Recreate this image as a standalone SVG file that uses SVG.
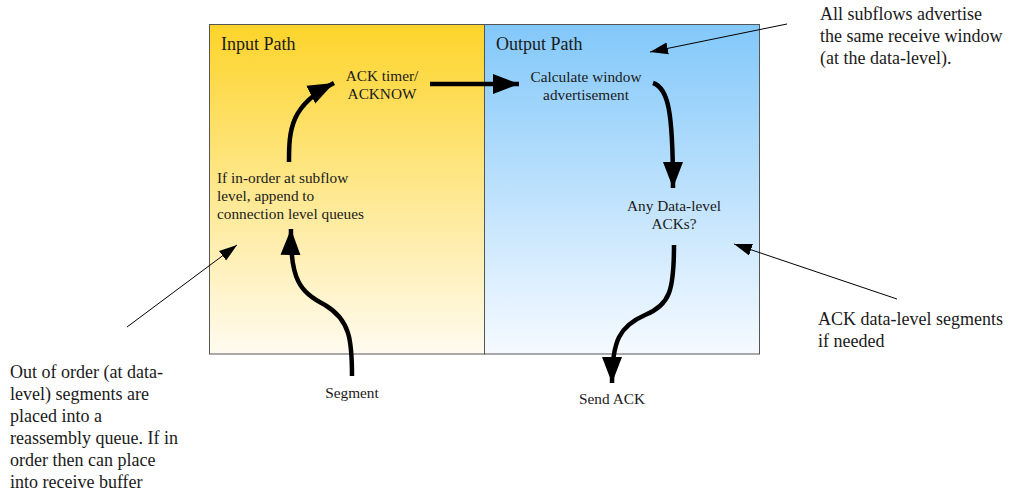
<svg xmlns="http://www.w3.org/2000/svg" width="1009" height="492" viewBox="0 0 1009 492">
<defs>
<linearGradient id="gIn" x1="0" y1="0" x2="0" y2="1">
<stop offset="0" stop-color="#FDD42A"/>
<stop offset="1" stop-color="#FFFBF0"/>
</linearGradient>
<linearGradient id="gOut" x1="0" y1="0" x2="0" y2="1">
<stop offset="0" stop-color="#82C8FA"/>
<stop offset="1" stop-color="#F6FAFF"/>
</linearGradient>
<marker id="big" markerUnits="userSpaceOnUse" markerWidth="30" markerHeight="24" refX="26" refY="10" orient="auto" viewBox="0 0 30 20">
<path d="M0,0 L26,10 L0,20 Z" fill="#000"/>
</marker>
<marker id="small" markerUnits="userSpaceOnUse" markerWidth="20" markerHeight="14" refX="18" refY="6" orient="auto" viewBox="0 0 20 12">
<path d="M0,0 L18,6 L0,12 Z" fill="#000"/>
</marker>
<style>
text{font-family:"Liberation Serif","Times New Roman",serif;fill:#1a1a1a}
.s{font-size:15.3px}
.m{font-size:18px}
.l{font-size:18px}
.thick{fill:none;stroke:#000;stroke-width:4.5;marker-end:url(#big)}
.thin{fill:none;stroke:#000;stroke-width:1;marker-end:url(#small)}
</style>
</defs>
<g id="input-panel">
<rect x="209.5" y="24.5" width="275" height="329.5" fill="url(#gIn)" stroke="#555" stroke-width="1"/>
<text class="m" x="221" y="50">Input Path</text>
</g>
<g id="output-panel">
<rect x="484.5" y="24.5" width="275" height="329.5" fill="url(#gOut)" stroke="#555" stroke-width="1"/>
<text class="m" x="496" y="50">Output Path</text>
</g>
<g id="ack-timer">
<text class="s" text-anchor="middle" x="382" y="81">ACK timer/</text>
<text class="s" text-anchor="middle" x="382" y="99">ACKNOW</text>
</g>
<g id="calc-window">
<text class="s" text-anchor="middle" x="586" y="82">Calculate window</text>
<text class="s" text-anchor="middle" x="586" y="100">advertisement</text>
</g>
<g id="in-order">
<text class="s" x="217" y="183">If in-order at subflow</text>
<text class="s" x="217" y="201">level, append to</text>
<text class="s" x="217" y="219">connection level queues</text>
</g>
<g id="any-acks">
<text class="s" text-anchor="middle" x="674" y="211">Any Data-level</text>
<text class="s" text-anchor="middle" x="674" y="229">ACKs?</text>
</g>
<g id="segment">
<text class="s" text-anchor="middle" x="352" y="398">Segment</text>
</g>
<g id="send-ack">
<text class="s" text-anchor="middle" x="612" y="404">Send ACK</text>
</g>
<g id="note-window">
<text class="l" x="820" y="20">All subflows advertise</text>
<text class="l" x="820" y="42">the same receive window</text>
<text class="l" x="820" y="64">(at the data-level).</text>
</g>
<g id="note-ack">
<text class="l" x="818" y="325">ACK data-level segments</text>
<text class="l" x="818" y="347">if needed</text>
</g>
<g id="note-order">
<text class="l" x="10" y="378">Out of order (at data-</text>
<text class="l" x="10" y="400">level) segments are</text>
<text class="l" x="10" y="422">placed into a</text>
<text class="l" x="10" y="444">reassembly queue. If in</text>
<text class="l" x="10" y="466">order then can place</text>
<text class="l" x="10" y="488">into receive buffer</text>
</g>
<g id="connectors">
<path class="thick" d="M352,376 C352,340 350,320 325,305 C300,292 290,280 291,229"/>
<path class="thick" d="M289,162 C289,130 290,105 334,83"/>
<path class="thick" d="M430,84 L519,84"/>
<path class="thick" d="M653,83 C668,88 673,110 673,188"/>
<path class="thick" d="M674,245 C674,290 670,305 645,315 C620,326 612,340 612,383"/>
<path class="thin" d="M787,24 L650,52"/>
<path class="thin" d="M897,299 L734,244"/>
<path class="thin" d="M127,327 L237,245"/>
</g>
</svg>
